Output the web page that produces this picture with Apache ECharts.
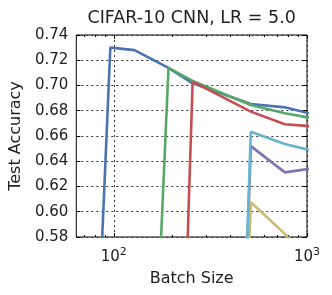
<!DOCTYPE html>
<html>
<head>
<meta charset="utf-8">
<script src="https://cdn.jsdelivr.net/npm/echarts@6/dist/echarts.min.js"></script>
<style>html,body{margin:0;padding:0;background:#fff;}#c{width:332px;height:295px;}</style>
</head>
<body>
<div id="c"></div>
<script>
const batchSizes = [64, 96, 128, 192, 256, 384, 512, 768, 1024];
const seriesNames = ['run1', 'run2', 'run3', 'run4', 'run5', 'run6'];
const blueVals   = [0.10, 0.730, 0.728, 0.714, 0.7017, null, 0.6853, 0.6827, 0.678];
const greenVals  = [null, null, 0.10, 0.714, 0.7036, null, 0.6846, 0.678, 0.6745];
const redVals    = [null, null, null, 0.10, 0.703, null, 0.6793, 0.6693, 0.6678];
const purpleVals = [null, null, null, null, null, 0.10, 0.652, 0.6312, 0.634];
const yellowVals = [null, null, null, null, null, 0.10, 0.6075, 0.5825, 0.56];
const cyanVals   = [null, null, null, null, null, 0.10, 0.6634, 0.6537, 0.649];
const colors = ['#4C72B0', '#55A868', '#C44E52', '#8172B2', '#CCB974', '#64B5CD'];
const yTicks = [0.58, 0.60, 0.62, 0.64, 0.66, 0.68, 0.70, 0.72, 0.74];
const xMajorTicks = [100, 1000];
const xMinorTicks = [70, 80, 90, 200, 300, 400, 500, 600, 700, 800, 900];
const xMin = 64, xMax = 1000;

const allVals = [blueVals, greenVals, redVals, purpleVals, yellowVals, cyanVals];
const font = 'DejaVu Sans';
const txt = '#222';
const lg = v => Math.log10(v);

function tickAxis(pos, vals, len, opts) {
  return Object.assign({
    type: 'value', position: pos, min: lg(xMin), max: lg(xMax),
    axisLine: {show: false},
    axisTick: {show: true, inside: true, length: len, customValues: vals.map(lg), lineStyle: {color: '#000', width: 1}},
    axisLabel: {show: false},
    splitLine: {show: false}
  }, opts || {});
}

const chart = echarts.init(document.getElementById('c'), null, {renderer: 'canvas'});
chart.setOption({
  animation: false,
  backgroundColor: '#fff',
  grid: {left: 75, right: 25, top: 35, bottom: 58, show: true, borderColor: '#000', borderWidth: 1, backgroundColor: 'transparent'},
  xAxis: [
    {type: 'log', min: xMin, max: xMax, position: 'bottom',
     axisLine: {show: false}, axisTick: {show: false}, axisLabel: {show: false}, splitLine: {show: false}},
    tickAxis('bottom', xMajorTicks, 4, {
      axisLabel: {show: true, customValues: xMajorTicks.map(lg), margin: 10, fontFamily: font, color: txt,
        formatter: v => '{b|10}{s|' + Math.round(v) + '}',
        rich: {b: {fontSize: 15, fontFamily: font, color: txt}, s: {fontSize: 11, fontFamily: font, color: txt, padding: [0, 0, 9, 0]}}},
      splitLine: {show: true, lineStyle: {color: '#333', width: 1, type: [2, 3]}},
      name: 'Batch Size', nameLocation: 'middle', nameGap: 34,
      nameTextStyle: {fontSize: 16, fontFamily: font, color: txt}
    }),
    tickAxis('bottom', xMinorTicks, 2),
    tickAxis('top', xMajorTicks, 4, {
      name: 'CIFAR-10 CNN, LR = 5.0', nameLocation: 'middle', nameGap: 8,
      nameTextStyle: {fontSize: 17.5, fontFamily: font, color: txt}
    }),
    tickAxis('top', xMinorTicks, 2)
  ],
  yAxis: [
    {type: 'value', min: 0.58, max: 0.74, interval: 0.02, position: 'left',
     axisLine: {show: false},
     axisTick: {show: true, inside: true, length: 4, lineStyle: {color: '#000'}},
     axisLabel: {fontSize: 15, fontFamily: font, color: txt, margin: 8, formatter: v => v.toFixed(2)},
     splitLine: {show: true, lineStyle: {color: '#333', width: 1, type: [2, 3]}},
     name: 'Test Accuracy', nameLocation: 'middle', nameRotate: 90, nameGap: 50,
     nameTextStyle: {fontSize: 16, fontFamily: font, color: txt}},
    {type: 'value', min: 0.58, max: 0.74, interval: 0.02, position: 'right',
     axisLine: {show: false},
     axisTick: {show: true, inside: true, length: 4, lineStyle: {color: '#000'}},
     axisLabel: {show: false}, splitLine: {show: false}}
  ],
  series: allVals.map((vals, i) => ({
    name: seriesNames[i], type: 'line', xAxisIndex: 0, yAxisIndex: 0,
    data: batchSizes.map((b, j) => vals[j] == null ? null : [b, vals[j]]).filter(d => d),
    showSymbol: false, symbol: 'none', clip: true,
    lineStyle: {color: colors[i], width: 2.6},
    itemStyle: {color: colors[i]},
    z: 3 + i
  }))
});
</script>
</body>
</html>
